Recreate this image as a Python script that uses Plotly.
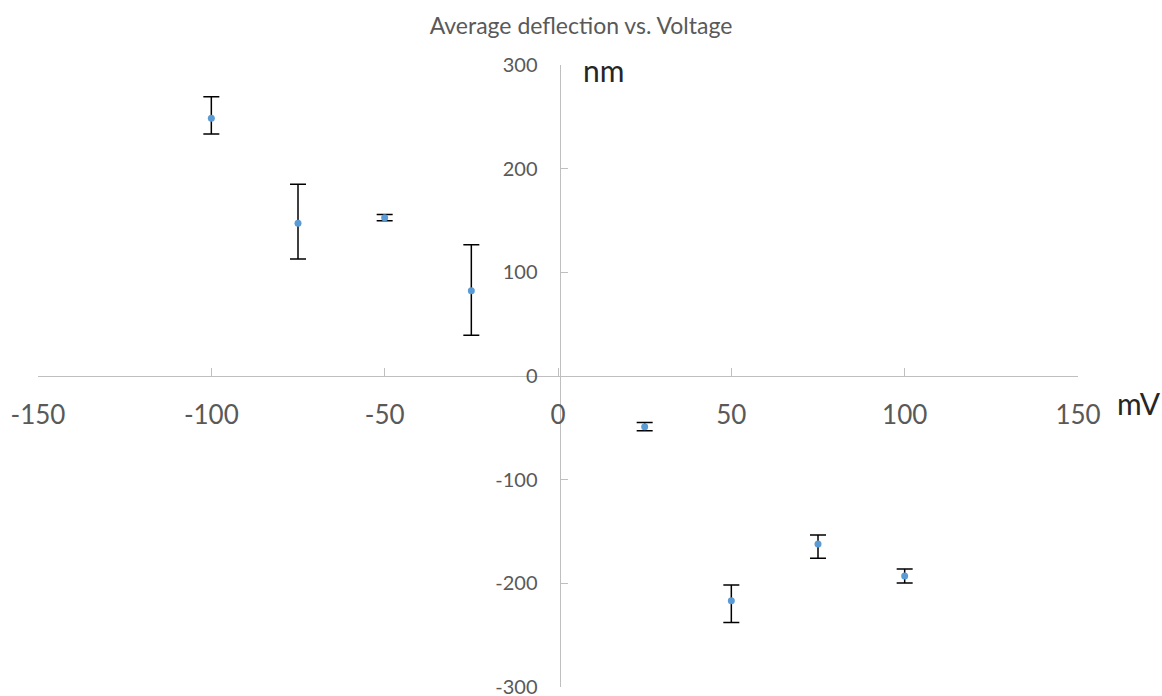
import plotly.graph_objects as go

voltage_mV = [-100, -75, -50, -25, 25, 50, 75, 100]
deflection_nm = [248.6, 147.3, 152.7, 82.3, -48.9, -216.7, -162.0, -192.9]
err_plus = [20.8, 37.6, 3.0, 44.4, 4.0, 15.0, 8.6, 6.7]
err_minus = [15.2, 34.4, 3.0, 43.1, 4.0, 21.0, 13.9, 6.8]

x_ticks = [-150, -100, -50, 0, 50, 100, 150]
y_ticks = [-300, -200, -100, 0, 100, 200, 300]

gray = "#595959"
axis_col = "#BFBFBF"
font_fam = "Lato, 'Liberation Sans', sans-serif"

fig = go.Figure()
fig.add_trace(go.Scatter(
    x=voltage_mV, y=deflection_nm, mode="markers",
    marker=dict(color="#5B9BD5", size=7),
    error_y=dict(type="data", symmetric=False, array=err_plus, arrayminus=err_minus,
                 color="black", thickness=1.5, width=8),
    showlegend=False,
))

fig.update_layout(
    width=1162, height=712,
    margin=dict(l=38, r=84, t=65, b=25),
    paper_bgcolor="white", plot_bgcolor="white",
    font=dict(family=font_fam, color=gray),
    title=dict(text="Average deflection vs. Voltage", x=0.5, xref="container",
               y=1 - 26 / 712, yref="container", xanchor="center", yanchor="middle",
               font=dict(size=23, color=gray, family=font_fam)),
    xaxis=dict(range=[-150, 150], tickvals=x_ticks, ticktext=[str(v) for v in x_ticks],
               anchor="free", position=0.5, showline=True, linecolor=axis_col, linewidth=1,
               ticks="inside", ticklen=8, tickcolor=axis_col, showgrid=False, zeroline=False,
               ticklabelstandoff=16,
               tickfont=dict(size=26, color=gray, family=font_fam)),
    yaxis=dict(range=[-300, 300], tickvals=y_ticks, ticktext=[str(v) for v in y_ticks],
               anchor="free", position=0.5015, showline=True, linecolor=axis_col, linewidth=1,
               ticks="inside", ticklen=7, tickcolor=axis_col, showgrid=False, zeroline=False,
               ticklabelstandoff=18,
               tickfont=dict(size=20, color=gray, family=font_fam)),
    annotations=[
        dict(text="nm", x=0.544, y=0.992, xref="paper", yref="paper", xanchor="center",
             yanchor="middle", showarrow=False,
             font=dict(size=30, color="#262626", family=font_fam)),
        dict(text="mV", x=1.0356, y=0.4566, xref="paper", yref="paper", xanchor="left",
             yanchor="middle", showarrow=False,
             font=dict(size=30, color="#262626", family=font_fam)),
    ],
)

fig.write_html(
    "out.html",
    config={"displayModeBar": False},
    post_script="document.body.style.margin='0';document.body.style.overflow='hidden';",
)
